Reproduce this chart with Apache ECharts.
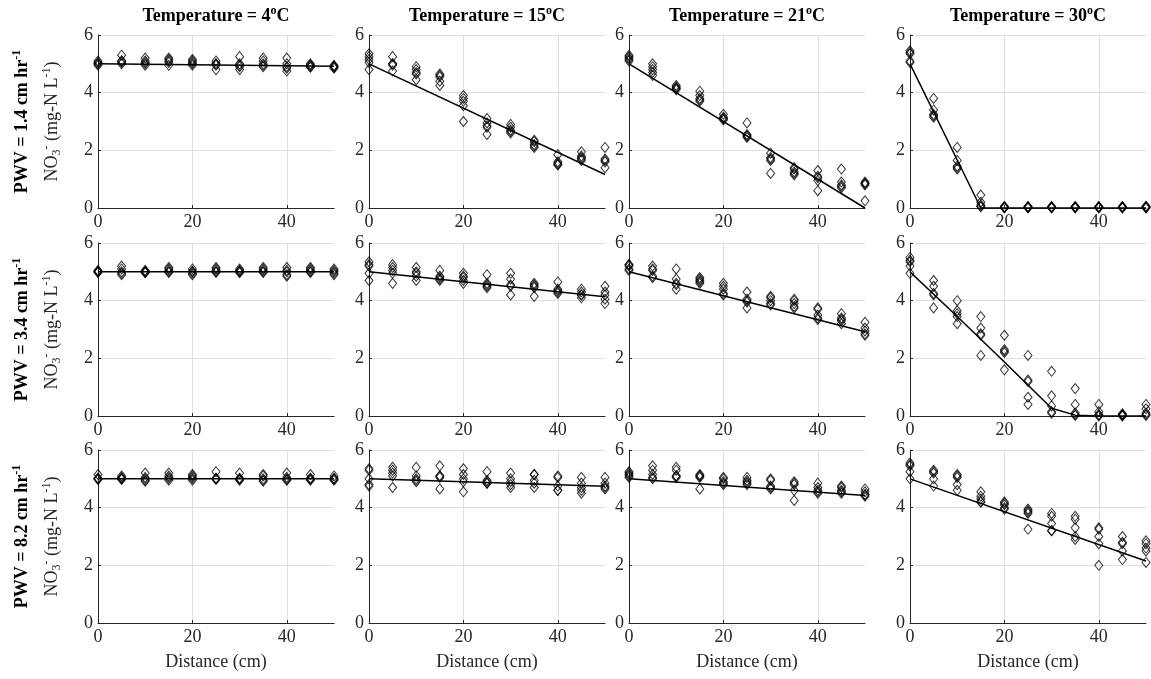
<!DOCTYPE html>
<html>
<head>
<meta charset="utf-8">
<script src="https://cdn.jsdelivr.net/npm/echarts@6/dist/echarts.min.js"></script>
<style>
  html, body { margin: 0; padding: 0; background: #fff; }
  #main { width: 1151px; height: 679px; }
</style>
</head>
<body>
<div id="main"></div>
<script>
// sampling distances (cm), 5 replicate samples at each
const distances = [0, 5, 10, 15, 20, 25, 30, 35, 40, 45, 50];
const temperatures = ['4', '15', '21', '30'];
const pwvRates = ['1.4', '3.4', '8.2'];
const xTickValues = [0, 20, 40];
const yTickValues = [0, 2, 4, 6];

// --- PWV = 1.4 cm/hr ---
const obs_P14_T4 = [[5.1,5.0,4.95,5.05,5.0],[5.3,5.1,5.05,5.0,5.1],[5.2,5.1,5.0,4.95,5.05],[5.2,5.15,5.05,4.95,5.1],[5.15,5.1,5.05,5.0,4.95],[5.1,5.0,4.95,4.8,5.0],[5.25,5.0,4.95,4.8,4.9],[5.2,5.1,5.0,4.95,4.9],[5.2,5.0,4.9,4.85,4.75],[5.0,4.95,4.9,4.95,4.88],[4.95,4.9,4.88,4.85,4.92]];
const obs_P14_T15 = [[5.35,5.25,5.15,5.05,4.8],[5.25,5.0,5.0,4.95,4.75],[4.9,4.8,4.7,4.65,4.45],[4.65,4.6,4.55,4.4,4.25],[3.9,3.8,3.7,3.55,3.0],[3.1,2.95,2.85,2.8,2.55],[2.9,2.8,2.7,2.65,2.6],[2.35,2.3,2.2,2.15,2.1],[1.85,1.6,1.55,1.5,1.5],[1.95,1.8,1.7,1.65,1.75],[2.1,1.7,1.65,1.6,1.4]];
const obs_P14_T21 = [[5.3,5.25,5.2,5.15,5.1],[5.0,4.9,4.8,4.7,4.6],[4.25,4.2,4.15,4.1,4.15],[4.05,3.9,3.8,3.75,3.7],[3.25,3.15,3.1,3.05,3.1],[2.95,2.55,2.5,2.45,2.5],[1.9,1.75,1.7,1.65,1.2],[1.4,1.35,1.25,1.2,1.15],[1.3,1.1,1.05,0.95,0.6],[1.35,0.9,0.8,0.7,0.75],[0.9,0.85,0.8,0.25,0.85]];
const obs_P14_T30 = [[5.45,5.4,5.35,5.1,5.05],[3.8,3.4,3.25,3.2,3.15],[2.1,1.65,1.45,1.4,1.35],[0.45,0.2,0.1,0.05,0.05],[0.05,0.03,0.02,0.0,0.04],[0.05,0.03,0.02,0.0,0.04],[0.05,0.03,0.02,0.0,0.04],[0.05,0.03,0.02,0.0,0.04],[0.05,0.03,0.02,0.0,0.04],[0.05,0.03,0.02,0.0,0.04],[0.06,0.03,0.02,0.0,0.04]];

// --- PWV = 3.4 cm/hr ---
const obs_P34_T4 = [[5.05,5.0,4.98,5.02,5.0],[5.2,5.1,5.0,4.95,4.9],[5.05,5.0,4.98,5.02,4.97],[5.15,5.1,5.0,5.05,4.98],[5.1,5.0,4.95,4.9,5.02],[5.15,5.05,5.0,4.98,5.1],[5.1,5.05,5.0,4.97,5.02],[5.15,5.1,5.0,5.05,4.98],[5.15,5.05,5.0,4.9,4.85],[5.15,5.05,5.0,4.98,5.1],[5.1,5.05,5.0,4.95,4.9]];
const obs_P34_T15 = [[5.35,5.25,5.2,4.95,4.7],[5.25,5.15,5.05,4.95,4.6],[5.15,5.0,4.95,4.85,4.7],[5.05,4.85,4.8,4.75,4.7],[4.95,4.85,4.8,4.7,4.6],[4.9,4.6,4.55,4.5,4.45],[4.95,4.75,4.55,4.5,4.2],[4.6,4.55,4.5,4.45,4.15],[4.65,4.4,4.35,4.3,4.25],[4.4,4.3,4.2,4.1,4.2],[4.5,4.3,4.2,4.05,3.9]];
const obs_P34_T21 = [[5.25,5.2,5.25,5.1,5.05],[5.2,5.1,5.05,4.85,4.8],[5.1,4.75,4.6,4.55,4.4],[4.8,4.75,4.7,4.65,4.6],[4.6,4.5,4.4,4.25,4.2],[4.3,4.05,4.0,3.95,3.75],[4.15,4.1,4.0,3.9,3.85],[4.05,4.0,3.9,3.8,3.75],[3.75,3.7,3.5,3.4,3.35],[3.55,3.4,3.35,3.3,3.2],[3.25,3.05,2.95,2.85,2.8]];
const obs_P34_T30 = [[5.5,5.4,5.35,5.2,4.95],[4.7,4.5,4.25,4.2,3.75],[4.0,3.65,3.55,3.45,3.2],[3.45,3.05,2.8,2.1,2.85],[2.8,2.3,2.25,2.2,1.6],[2.1,1.25,1.2,0.65,0.4],[1.55,0.7,0.35,0.15,0.1],[0.95,0.4,0.1,0.05,0.02],[0.4,0.15,0.05,0.03,0.0],[0.08,0.05,0.03,0.02,0.0],[0.4,0.25,0.1,0.05,0.02]];

// --- PWV = 8.2 cm/hr ---
const obs_P82_T4 = [[5.15,5.0,4.98,5.02,5.0],[5.1,5.05,5.0,4.98,5.02],[5.2,5.05,5.0,4.92,4.95],[5.2,5.1,5.0,4.95,5.05],[5.15,5.1,5.0,4.95,5.05],[5.25,5.0,5.02,4.98,5.0],[5.2,5.0,4.95,4.98,5.02],[5.15,5.1,5.0,4.92,4.95],[5.2,5.05,5.0,4.95,4.97],[5.15,5.0,4.95,4.98,5.02],[5.1,5.0,4.98,5.02,4.95]];
const obs_P82_T15 = [[5.35,5.3,5.0,4.8,4.75],[5.4,5.3,5.2,5.1,4.7],[5.4,5.1,5.0,4.95,4.9],[5.45,5.1,5.05,4.65,5.1],[5.35,5.15,5.0,4.9,4.55],[5.25,4.95,4.9,4.85,4.85],[5.2,5.0,4.9,4.8,4.7],[5.15,5.15,4.95,4.85,4.7],[5.1,5.05,4.75,4.6,4.6],[5.05,4.85,4.7,4.6,4.5],[5.05,4.85,4.7,4.65,4.75]];
const obs_P82_T21 = [[5.25,5.2,5.15,5.1,5.05],[5.45,5.3,5.15,5.05,5.0],[5.4,5.3,5.1,5.05,5.1],[5.15,5.1,5.05,5.1,4.65],[5.05,5.0,4.9,4.85,4.8],[5.05,4.95,4.9,4.85,4.8],[5.0,4.95,4.75,4.7,4.65],[4.9,4.85,4.8,4.6,4.25],[4.85,4.7,4.6,4.55,4.5],[4.75,4.7,4.6,4.55,4.5],[4.65,4.55,4.45,4.4,4.45]];
const obs_P82_T30 = [[5.55,5.5,5.45,5.25,5.0],[5.3,5.25,5.2,5.0,4.75],[5.15,5.1,5.05,4.8,4.6],[4.55,4.4,4.3,4.2,4.2],[4.2,4.15,4.1,4.0,3.95],[3.95,3.9,3.85,3.8,3.25],[3.8,3.7,3.45,3.2,3.2],[3.7,3.6,3.3,3.0,2.9],[3.3,3.25,3.0,2.75,2.0],[3.0,2.8,2.75,2.5,2.2],[2.85,2.75,2.6,2.5,2.1]];

// fitted model lines, [distance, NO3] knots
const fit_P14_T4 = [[0,5.0],[50,4.92]];
const fit_P14_T15 = [[0,5.0],[50,1.16]];
const fit_P14_T21 = [[0,5.0],[50,0.0]];
const fit_P14_T30 = [[0,5.0],[15,0.0],[50,0.0]];
const fit_P34_T4 = [[0,5.0],[50,5.0]];
const fit_P34_T15 = [[0,5.0],[50,4.14]];
const fit_P34_T21 = [[0,5.0],[50,2.92]];
const fit_P34_T30 = [[0,5.0],[10,3.45],[20,1.87],[30,0.27],[35,0.03],[40,0.0],[50,0.0]];
const fit_P82_T4 = [[0,5.0],[50,5.0]];
const fit_P82_T15 = [[0,5.0],[50,4.74]];
const fit_P82_T21 = [[0,5.0],[50,4.42]];
const fit_P82_T30 = [[0,5.0],[50,2.15]];

const obsGrid = [
  [obs_P14_T4, obs_P14_T15, obs_P14_T21, obs_P14_T30],
  [obs_P34_T4, obs_P34_T15, obs_P34_T21, obs_P34_T30],
  [obs_P82_T4, obs_P82_T15, obs_P82_T21, obs_P82_T30]
];
const fitGrid = [
  [fit_P14_T4, fit_P14_T15, fit_P14_T21, fit_P14_T30],
  [fit_P34_T4, fit_P34_T15, fit_P34_T21, fit_P34_T30],
  [fit_P82_T4, fit_P82_T15, fit_P82_T21, fit_P82_T30]
];

// layout (px)
const colLeft = [98, 369, 629, 910];
const rowTop = [35, 243, 450];
const panelW = 236, panelH = 173;

const serif = 'Liberation Serif';
const ink = '#262626';
const gridColor = '#dfdfdf';

const grids = [], xAxes = [], yAxes = [], series = [], graphics = [];

for (let r = 0; r < 3; r++) {
  for (let c = 0; c < 4; c++) {
    const idx = r * 4 + c;
    grids.push({ left: colLeft[c], top: rowTop[r], width: panelW, height: panelH });
    xAxes.push({
      gridIndex: idx, type: 'value', min: 0, max: 50, interval: 20,
      axisLine: { show: true, onZero: false, lineStyle: { color: ink, width: 1 } },
      axisTick: { show: true, inside: true, length: 3, customValues: xTickValues, lineStyle: { color: ink } },
      axisLabel: { color: ink, fontFamily: serif, fontSize: 18, margin: 5, customValues: xTickValues },
      splitLine: { show: true, lineStyle: { color: gridColor, width: 1 } },
      name: r === 2 ? 'Distance (cm)' : '',
      nameLocation: 'middle', nameGap: 30,
      nameTextStyle: { color: ink, fontFamily: serif, fontSize: 18 }
    });
    yAxes.push({
      gridIndex: idx, type: 'value', min: 0, max: 6, interval: 2,
      axisLine: { show: true, onZero: false, lineStyle: { color: ink, width: 1 } },
      axisTick: { show: true, inside: true, length: 3, customValues: yTickValues, lineStyle: { color: ink } },
      axisLabel: { color: ink, fontFamily: serif, fontSize: 18, margin: 5, customValues: yTickValues },
      splitLine: { show: true, lineStyle: { color: gridColor, width: 1 } }
    });

    const pts = [];
    obsGrid[r][c].forEach((reps, i) => reps.forEach(v => pts.push([distances[i], v])));
    series.push({
      type: 'scatter', xAxisIndex: idx, yAxisIndex: idx, data: pts,
      symbol: 'diamond', symbolSize: [8, 10],
      itemStyle: { color: 'rgba(0,0,0,0)', borderColor: '#000', borderWidth: 1 },
      silent: true
    });
    series.push({
      type: 'line', xAxisIndex: idx, yAxisIndex: idx, data: fitGrid[r][c],
      showSymbol: false, lineStyle: { color: '#000', width: 1.5 }, z: 3, silent: true
    });
  }
}

// column titles
temperatures.forEach((t, c) => {
  graphics.push({
    type: 'text', x: colLeft[c] + panelW / 2, y: 16,
    style: {
      text: '{t|Temperature = ' + t + '}{s|o}{t|C}',
      align: 'center', verticalAlign: 'middle',
      rich: {
        t: { fontFamily: serif, fontWeight: 'bold', fontSize: 18, fill: '#000', lineHeight: 22 },
        s: { fontFamily: serif, fontWeight: 'bold', fontSize: 12, fill: '#000', lineHeight: 12, verticalAlign: 'top' }
      }
    }
  });
});

// row labels
pwvRates.forEach((p, r) => {
  const cy = rowTop[r] + panelH / 2;
  graphics.push({
    type: 'text', x: 22, y: cy, rotation: Math.PI / 2,
    style: {
      text: '{b|PWV = ' + p + ' cm hr}{s|-1}',
      align: 'center', verticalAlign: 'middle',
      rich: {
        b: { fontFamily: serif, fontWeight: 'bold', fontSize: 18, fill: '#000', lineHeight: 22 },
        s: { fontFamily: serif, fontWeight: 'bold', fontSize: 12, fill: '#000', lineHeight: 12, verticalAlign: 'top' }
      }
    }
  });
  graphics.push({
    type: 'text', x: 52, y: cy, rotation: Math.PI / 2,
    style: {
      text: '{n|NO}{d|3}{u|-}{n| (mg-N L}{u|-1}{n|)}',
      align: 'center', verticalAlign: 'middle',
      rich: {
        n: { fontFamily: serif, fontSize: 18, fill: ink, lineHeight: 22 },
        d: { fontFamily: serif, fontSize: 12, fill: ink, lineHeight: 12, verticalAlign: 'bottom' },
        u: { fontFamily: serif, fontSize: 12, fill: ink, lineHeight: 12, verticalAlign: 'top' }
      }
    }
  });
});

const chart = echarts.init(document.getElementById('main'), null, { renderer: 'canvas' });
chart.setOption({
  animation: false,
  backgroundColor: '#fff',
  grid: grids,
  xAxis: xAxes,
  yAxis: yAxes,
  series: series,
  graphic: graphics
});
</script>
</body>
</html>
